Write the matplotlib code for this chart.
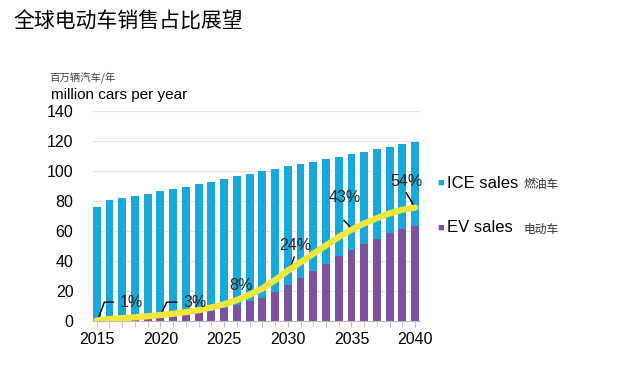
import matplotlib
matplotlib.use("Agg")
import matplotlib.pyplot as plt
import numpy as np

plt.rcParams['font.family'] = ['Liberation Sans', 'Noto Sans CJK SC', 'DejaVu Sans']

years = list(range(2015, 2041))
total = [76.2, 80.7, 81.8, 83.3, 84.7, 86.4, 87.8, 89.6, 91.3, 92.9, 94.7, 96.4, 98.2,
         100.0, 101.6, 103.1, 104.7, 106.2, 107.8, 109.5, 111.1, 112.7, 114.4, 116.0,
         117.8, 119.6]
ev = [0.2, 0.5, 0.8, 1.0, 1.5, 2.4, 3.3, 4.4, 5.6, 6.9, 8.4, 10.4, 13.1, 15.3, 19.6,
      24.0, 28.9, 33.5, 38.3, 43.7, 47.5, 51.1, 54.7, 58.4, 61.1, 63.6]
ice = [t - e for t, e in zip(total, ev)]
# EV share of sales, % (yellow line, secondary 0-100 scale)
share = [0.3, 1.0, 1.4, 1.8, 2.3, 2.9, 3.5, 4.3, 5.2, 6.5, 8.0, 10.0, 12.5, 15.5, 19.5,
         24.0, 28.0, 32.0, 36.0, 40.0, 43.5, 46.5, 49.0, 51.3, 53.0, 54.0]

ICE_C = "#18a8da"
EV_C = "#7a52a0"
LINE_C = "#f0e73a"

fig = plt.figure(figsize=(6.32, 3.80), dpi=100)
ax = fig.add_axes([0.147, 0.155, 0.518, 0.553])
ax.bar(years, ev, 0.62, color=EV_C, zorder=2)
ax.bar(years, ice, 0.62, bottom=ev, color=ICE_C, zorder=2)
ax.set_xlim(2014.7, 2040.4)
ax.set_ylim(0, 140)
ax.set_yticks(range(0, 141, 20))
ax.set_xticks(range(2015, 2041, 5))
ax.set_xticks(years, minor=True)
ax.yaxis.grid(True, color="#e4e4e4", lw=0.8, zorder=0)
for s in ["top", "right", "left"]:
    ax.spines[s].set_visible(False)
ax.spines["bottom"].set_color("#bdbdbd")
ax.tick_params(axis="y", length=0, labelsize=11.5, pad=14)
ax.tick_params(axis="x", which="both", length=4, color="#bdbdbd", labelsize=11.5, pad=4)

ax2 = ax.twinx()
ax2.set_ylim(0, 140 / 1.4)
ax2.plot(years, share, color=LINE_C, lw=4.5, solid_capstyle="round", zorder=3)
ax2.axis("off")

ann_kw = dict(fontsize=11.5, color="#222222")
ax2.plot([2015.1, 2015.6, 2016.3], [0.9, 9.0, 9.0], color="black", lw=1)
ax2.text(2016.8, 9.0, "1%", va="center", **ann_kw)
ax2.plot([2020.0, 2020.5, 2021.3], [2.9, 9.0, 9.0], color="black", lw=1)
ax2.text(2021.8, 9.0, "3%", va="center", **ann_kw)
ax2.text(2026.3, 17.0, "8%", ha="center", va="center", **ann_kw)
ax2.plot([2030.1, 2030.5], [23.5, 30.5], color="black", lw=1)
ax2.text(2030.6, 36.0, "24%", ha="center", va="center", **ann_kw)
ax2.plot([2034.4, 2035.1], [48.0, 43.5], color="black", lw=1)
ax2.text(2034.5, 59.0, "43%", ha="center", va="center", **ann_kw)
ax2.plot([2039.3, 2040.0], [61.0, 54.0], color="black", lw=1)
ax2.text(2039.3, 66.5, "54%", ha="center", va="center", **ann_kw)

# legend drawn by hand
fig.text(0.692, 0.518, "\u25a0", color=ICE_C, fontsize=8, va="center")
fig.text(0.708, 0.518, "ICE sales", fontsize=12, va="center")
fig.text(0.828, 0.514, "燃油车", fontsize=8.5, va="center", family="Noto Sans CJK SC", color="#333333")
fig.text(0.692, 0.402, "\u25a0", color=EV_C, fontsize=8, va="center")
fig.text(0.708, 0.402, "EV sales", fontsize=12, va="center")
fig.text(0.828, 0.396, "电动车", fontsize=8.5, va="center", family="Noto Sans CJK SC", color="#333333")

fig.text(0.022, 0.942, "全球电动车销售占比展望", fontsize=15, va="center",
         family="Noto Sans CJK SC", color="black")
fig.text(0.078, 0.797, "百万辆汽车/年", fontsize=7.5, va="center",
         family="Noto Sans CJK SC", color="#444444")
fig.text(0.080, 0.750, "million cars per year", fontsize=11, va="center")

fig.savefig("out.png", dpi=100)
